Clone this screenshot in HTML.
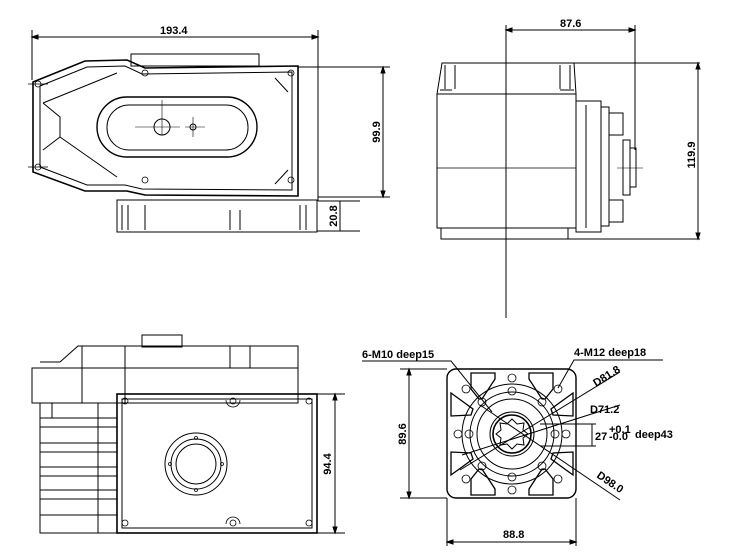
<!DOCTYPE html>
<html><head><meta charset="utf-8"><style>
html,body{margin:0;padding:0;background:#fff;}
svg{display:block}
text{font-family:"Liberation Sans",sans-serif;font-weight:bold;font-size:11px;fill:#000}
</style></head><body>
<svg width="753" height="558" viewBox="0 0 753 558" xmlns="http://www.w3.org/2000/svg" fill="none" stroke="#000" stroke-width="1">
<!-- TOP-LEFT VIEW -->
<line x1="32" y1="37" x2="318" y2="37"/>
<path d="M32 37l6 -2v4zM318 37l-6 -2v4z" fill="#000"/>
<line x1="32" y1="30" x2="32" y2="80"/>
<line x1="318" y1="30" x2="318" y2="201"/>
<text x="160" y="34" stroke="none" font-size="10">193.4</text>
<rect x="131" y="54" width="128" height="12"/>
<rect x="117" y="200" width="200" height="32"/>
<path d="M122 205v25M128 205v25M145 205v25M230 210v20M240 210v20M300 205v25M306 205v25"/>
<polygon points="33,82 85,61 127,60 145,68 298,66 298,196 145,195 127,191 85,191 33,172" stroke-width="1.6"/>
<polygon points="40,86 87,67 125,66 142,74 292,72 292,190 142,189 125,185 87,185 40,167"/>
<path d="M43 103 L117 73 M43 103 L60 117 L60 137 L43 150 M60 137 L117 177 M60 117 L43 103"/>
<path d="M275 78 l13 14 M275 184 l13 -14"/>
<rect x="97" y="97" width="160" height="60" rx="30" stroke-width="1.4"/>
<rect x="107" y="105" width="141" height="45" rx="22"/>
<circle cx="162" cy="127" r="8"/>
<circle cx="193" cy="127" r="3"/>
<path d="M135 127h45M162 100v35M185 127h20M193 117v20" stroke-width="0.6"/>
<g stroke-width="0.8">
<circle cx="145" cy="73" r="3"/><circle cx="291" cy="73" r="3"/><circle cx="38" cy="84" r="3"/>
<circle cx="38" cy="167" r="3"/><circle cx="145" cy="180" r="3"/><circle cx="291" cy="180" r="3"/>
<path d="M28 84h20M28 167h20"/>
</g>
<line x1="298" y1="67" x2="390" y2="67"/>
<line x1="318" y1="197" x2="390" y2="197"/>
<line x1="383" y1="67" x2="383" y2="197"/>
<path d="M383 67l-2 6h4zM383 197l-2 -6h4z" fill="#000"/>
<text transform="translate(380,132) rotate(-90)" stroke="none" font-size="10" text-anchor="middle">99.9</text>
<line x1="318" y1="201" x2="360" y2="201"/>
<line x1="317" y1="231" x2="360" y2="231"/>
<line x1="340" y1="201" x2="340" y2="231"/>
<text transform="translate(337,216) rotate(-90)" stroke="none" font-size="9" text-anchor="middle">20.8</text>

<!-- TOP-RIGHT VIEW -->
<line x1="506" y1="30" x2="635" y2="30"/>
<path d="M506 30l6 -2v4zM635 30l-6 -2v4z" fill="#000"/>
<text x="560" y="27" stroke="none" font-size="10">87.6</text>
<line x1="506" y1="25" x2="506" y2="318"/>
<line x1="635" y1="25" x2="635" y2="150"/>
<path d="M442 63 L574 63 L576 94 L437 94 Z"/>
<path d="M445 65v24M455 65v24M560 65v24M570 65v24M440 90h12M560 90h14"/>
<rect x="437" y="94" width="139" height="134"/>
<line x1="437" y1="168" x2="576" y2="168" stroke-width="0.7"/>
<rect x="441" y="228" width="127" height="11"/>
<rect x="576" y="101" width="25" height="131"/>
<path d="M586 105v123"/>
<rect x="601" y="107" width="8" height="119"/>
<rect x="609" y="113" width="14" height="22"/><rect x="609" y="200" width="14" height="22"/>
<rect x="623" y="140" width="7" height="55"/>
<rect x="630" y="148" width="6" height="39"/>
<path d="M617 168h26" stroke-width="0.6"/>
<line x1="574" y1="63" x2="700" y2="63"/>
<line x1="568" y1="239" x2="700" y2="239"/>
<line x1="698" y1="63" x2="698" y2="239"/>
<path d="M698 63l-2 6h4zM698 239l-2 -6h4z" fill="#000"/>
<text transform="translate(695,155) rotate(-90)" stroke="none" font-size="10" text-anchor="middle">119.9</text>

<!-- BOTTOM-LEFT VIEW -->
<rect x="142" y="335" width="40" height="12"/>
<path d="M60 362 L78 346 L298 346 L298 368 M40 362 L60 362"/>
<rect x="32" y="368" width="266" height="35"/>
<path d="M82 346v57M125 346v57M230 346v22M250 346v22"/>
<rect x="40" y="403" width="77" height="130"/>
<path d="M40 418h77M40 427h77M40 443h77M40 452h77M40 467h77M40 476h77M40 490h77M40 499h77M40 515h77M98 403v130M52 403v15"/>
<rect x="117" y="394" width="200" height="139" stroke-width="1.6"/>
<rect x="122" y="399" width="190" height="129"/>
<circle cx="196" cy="464" r="31"/><circle cx="196" cy="464" r="25"/><circle cx="196" cy="464" r="20"/>
<g stroke-width="0.8">
<circle cx="196" cy="438" r="1.5"/><circle cx="196" cy="490" r="1.5"/><circle cx="170" cy="464" r="1.5"/><circle cx="222" cy="464" r="1.5"/>
<circle cx="125" cy="401" r="3"/><circle cx="233" cy="401" r="3"/><circle cx="309" cy="401" r="3"/>
<circle cx="125" cy="523" r="3"/><circle cx="233" cy="523" r="3"/><circle cx="309" cy="523" r="3"/>
<path d="M226 400a7 7 0 0 0 14 0M226 524a7 7 0 0 1 14 0"/>
</g>
<line x1="317" y1="394" x2="345" y2="394"/><line x1="317" y1="533" x2="345" y2="533"/>
<line x1="335" y1="394" x2="335" y2="533"/>
<path d="M335 394l-2 6h4zM335 533l-2 -6h4z" fill="#000"/>
<text transform="translate(331,464) rotate(-90)" stroke="none" font-size="10" text-anchor="middle">94.4</text>

<!-- BOTTOM-RIGHT VIEW -->
<rect x="447" y="369" width="129" height="129" rx="9" stroke-width="1.4"/>
<circle cx="512" cy="434" r="50"/>
<circle cx="512" cy="434" r="42"/>
<circle cx="512" cy="434" r="35"/>
<circle cx="512" cy="434" r="22"/>
<circle cx="512" cy="434" r="19" stroke-width="1.6"/>
<path d="M512 419 l5 5 7 -1 -1 7 5 4 -5 4 1 7 -7 -1 -5 5 -5 -5 -7 1 1 -7 -5 -4 5 -4 -1 -7 7 1z"/>
<g stroke-width="1.3">
<path d="M471 373 h24 v6 l-13 20 h-3 l-8 -10 z M553 373 h-24 v6 l13 20 h3 l8 -10 z M471 495 h24 v-6 l-13 -20 h-3 l-8 10 z M553 495 h-24 v-6 l13 -20 h3 l8 10 z"/>
<path d="M451 393 v23 l20 -1 l2 -6 z M451 475 v-23 l20 1 l2 6 z M573 393 v23 l-20 -1 l-2 -6 z M573 475 v-23 l-20 1 l-2 6 z"/>
</g>
<g stroke-width="0.8">
<circle cx="512" cy="378" r="4"/><circle cx="512" cy="391" r="4"/><circle cx="512" cy="477" r="4"/><circle cx="512" cy="490" r="4"/>
<circle cx="458" cy="434" r="4"/><circle cx="469" cy="434" r="4"/><circle cx="555" cy="434" r="4"/><circle cx="566" cy="434" r="4"/>
<circle cx="466" cy="389" r="4"/><circle cx="558" cy="389" r="4"/><circle cx="466" cy="479" r="4"/><circle cx="558" cy="479" r="4"/>
<circle cx="482" cy="402" r="4"/><circle cx="542" cy="402" r="4"/><circle cx="482" cy="466" r="4"/><circle cx="542" cy="466" r="4"/>
</g>
<line x1="447" y1="369" x2="400" y2="369"/><line x1="447" y1="498" x2="400" y2="498"/>
<line x1="409" y1="369" x2="409" y2="498"/>
<path d="M409 369l-2 6h4zM409 498l-2 -6h4z" fill="#000"/>
<text transform="translate(406,434) rotate(-90)" stroke="none" font-size="10" text-anchor="middle">89.6</text>
<line x1="447" y1="498" x2="447" y2="546"/><line x1="576" y1="498" x2="576" y2="546"/>
<line x1="447" y1="542" x2="576" y2="542"/>
<path d="M447 542l6 -2v4zM576 542l-6 -2v4z" fill="#000"/>
<text x="503" y="538" stroke="none" font-size="10">88.8</text>
<text x="362" y="358" stroke="none">6-M10 deep15</text>
<path d="M362 361h89 L492 412"/>
<text x="574" y="356" stroke="none">4-M12 deep18</text>
<path d="M663 360h-89 L558 388"/>
<path d="M620 372 L460 470"/>
<text transform="translate(596,387) rotate(-32)" stroke="none" font-size="10">D81.8</text>
<path d="M620 405 L462 455"/>
<text x="590" y="413" stroke="none" font-size="10">D71.2</text>
<path d="M620 500 L480 405"/>
<text transform="translate(596,477) rotate(34)" stroke="none" font-size="10">D98.0</text>
<path d="M540 424h56M540 446h56M592 424v22"/>
<text x="595" y="440" stroke="none" font-size="10">27</text>
<text x="609" y="433" stroke="none" font-size="6">+0.1</text>
<text x="609" y="440" stroke="none" font-size="6">-0.0</text>
<text x="635" y="438" stroke="none" font-size="9">deep43</text>
</svg>
</body></html>
